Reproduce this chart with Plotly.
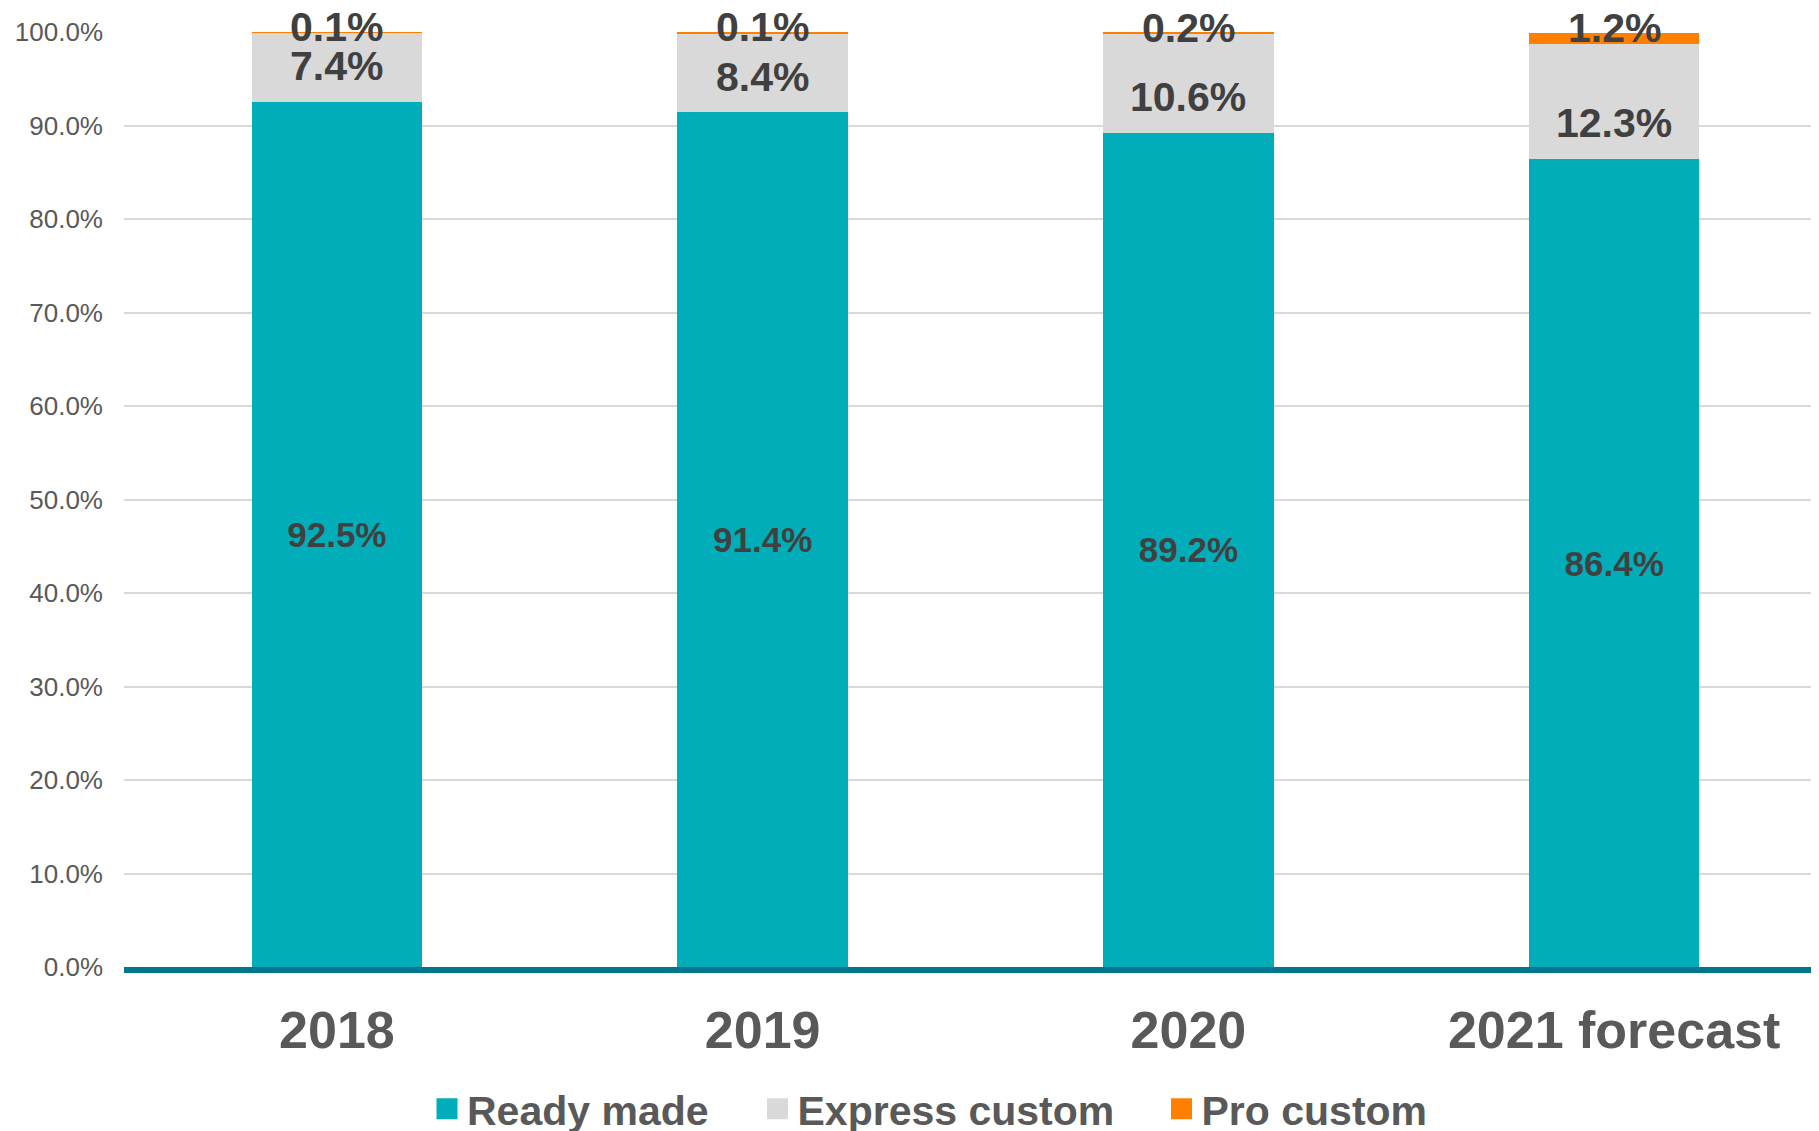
import plotly.graph_objects as go

categories = ["2018", "2019", "2020", "2021 forecast"]
ready_made = [92.5, 91.4, 89.2, 86.4]
express_custom = [7.4, 8.4, 10.6, 12.3]
pro_custom = [0.1, 0.1, 0.2, 1.2]
series_names = ["Ready made", "Express custom", "Pro custom"]
y_ticks = [0, 10, 20, 30, 40, 50, 60, 70, 80, 90, 100]

# label style: pixel nudges as placed in the original chart
express_label_shift = [2, -4, -14, -21]
pro_label_shift = [5, 6, 5, 11]

FONT = "Liberation Sans, Arial, sans-serif"
colors = ["#00ADB8", "#D9D9D9", "#FF8000"]
legend_ids = ["legend", "legend2", "legend3"]
LABEL_COLOR = "#404040"

fig = go.Figure()
series = [ready_made, express_custom, pro_custom]
for i, (name, vals, col) in enumerate(zip(series_names, series, colors)):
    bar = dict(
        x=categories, y=vals, name=name,
        marker=dict(color=col, line=dict(width=0)),
        width=0.4, cliponaxis=False, showlegend=False, hoverinfo="skip",
    )
    if i == 0:
        bar.update(
            text=[f"{v:.1f}%" for v in vals],
            textposition="inside", insidetextanchor="middle", textangle=0,
            constraintext="none",
            textfont=dict(family=FONT, size=35, color=LABEL_COLOR, weight="bold"),
        )
    fig.add_trace(go.Bar(**bar))

# legend entries (square swatches)
for name, col, lid in zip(series_names, colors, legend_ids):
    fig.add_trace(go.Scatter(
        x=[None], y=[None], mode="markers", name=name,
        marker=dict(symbol="square", size=16, color=col, line=dict(color=col, width=5)),
        legend=lid, showlegend=True, hoverinfo="skip",
    ))

# segment labels for Express and Pro custom (x = category index on the category axis)
label_font = dict(family=FONT, size=41, color=LABEL_COLOR, weight="bold")
for idx, (r, e, p, es, ps) in enumerate(zip(ready_made, express_custom, pro_custom,
                                            express_label_shift, pro_label_shift)):
    fig.add_annotation(x=idx, y=r + e / 2, text=f"{e:.1f}%", showarrow=False,
                       yanchor="middle", xanchor="center", yshift=es, font=label_font)
    fig.add_annotation(x=idx, y=r + e + p / 2, text=f"{p:.1f}%", showarrow=False,
                       yanchor="middle", xanchor="center", yshift=ps, font=label_font)

OFF = 8  # page body margin offset
legend_font = dict(family=FONT, size=41, color="#595959", weight="bold")
legend_common = dict(orientation="h", xref="container", yref="container",
                     xanchor="left", yanchor="middle", y=1 - (1109 - OFF) / 1131,
                     font=legend_font, bgcolor="rgba(0,0,0,0)", borderwidth=0,
                     visible=True)

fig.update_layout(
    width=1819, height=1131,
    barmode="stack",
    showlegend=True,
    plot_bgcolor="white", paper_bgcolor="white",
    margin=dict(l=124 - OFF, r=0, t=32 - OFF, b=164 + OFF, pad=0),
    font=dict(family=FONT, color="#595959"),
    legend=dict(x=(427 - OFF) / 1819, **legend_common),
    legend2=dict(x=(757.5 - OFF) / 1819, **legend_common),
    legend3=dict(x=(1161.5 - OFF) / 1819, **legend_common),
    xaxis=dict(
        type="category", range=[-0.5, 3.5],
        showline=True, linecolor="#00778B", linewidth=6,
        showgrid=False, ticks="", ticklabelstandoff=13,
        tickfont=dict(family=FONT, size=52, color="#595959", weight="bold"),
    ),
    yaxis=dict(
        range=[0, 100], tickvals=y_ticks,
        ticktext=[f"{t:.1f}%" for t in y_ticks],
        showgrid=True, gridcolor="#D9D9D9", gridwidth=2,
        zeroline=False, showline=False, ticks="", ticklabelstandoff=20,
        tickfont=dict(family=FONT, size=26, color="#595959"),
    ),
)

fig.write_html("out.html")
